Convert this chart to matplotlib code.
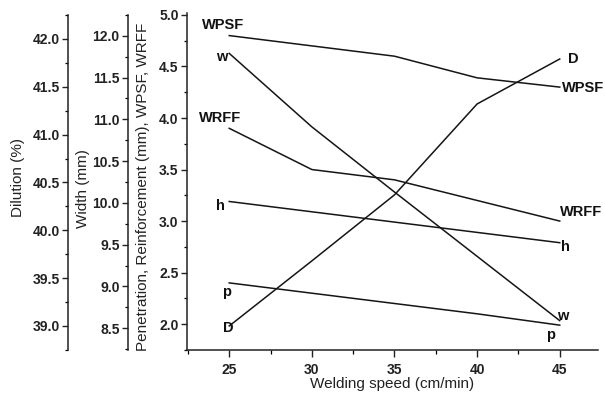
import numpy as np
from matplotlib import pyplot as plt
from matplotlib.ticker import MultipleLocator

plt.rcParams['font.family'] = ['Liberation Sans', 'DejaVu Sans']

# welding speed (cm/min)
speed = [25, 30, 35, 40, 45]

# main axis: penetration, reinforcement (mm), WPSF, WRFF
wpsf = [4.80, 4.70, 4.60, 4.39, 4.30]
wrff = [3.90, 3.50, 3.40, 3.20, 3.00]
h = [3.19, 3.09, 2.99, 2.89, 2.79]
p = [2.40, 2.30, 2.20, 2.10, 1.99]
# width (mm)
w = [11.79, 10.91, 10.13, 9.36, 8.59]
# dilution (%)
d = [39.0, 39.68, 40.37, 41.32, 41.79]

fig = plt.figure(figsize=(6.05, 3.94), dpi=100)
ax = fig.add_axes([0.309, 0.112, 0.679, 0.85])
ax_w = ax.twinx()
ax_d = ax.twinx()

lc = '#151515'
lw = 1.1
bold = dict(fontweight='bold', fontsize=10.5, color='#111111')

def label_ends(axis, x, y, name, off_l, off_r):
    axis.annotate(name, (x[0], y[0]), xytext=off_l, textcoords='offset pixels',
                  ha='center', va='center', **bold)
    axis.annotate(name, (x[-1], y[-1]), xytext=off_r, textcoords='offset pixels',
                  ha='center', va='center', **bold)

ax.plot(speed, wpsf, color=lc, lw=lw)
ax.plot(speed, wrff, color=lc, lw=lw)
ax.plot(speed, h, color=lc, lw=lw)
ax.plot(speed, p, color=lc, lw=lw)
ax_w.plot(speed, w, color=lc, lw=lw)
ax_d.plot(speed, d, color=lc, lw=lw)

label_ends(ax, speed, wpsf, 'WPSF', (-6, 11), (23, -1))
label_ends(ax, speed, wrff, 'WRFF', (-9, 10), (21, 9))
label_ends(ax, speed, h, 'h', (-9, -5), (6, -4))
label_ends(ax, speed, p, 'p', (-3, -9), (-9, -10))
label_ends(ax_w, speed, w, 'w', (-8, -4), (3, 5))
label_ends(ax_d, speed, d, 'D', (-1, -2), (14, 0))

ax.set_xlim(22.44, 47.3)
ax.set_ylim(1.75, 5.0)
ax_w.set_ylim(8.24, 12.25)
ax_d.set_ylim(38.75, 42.25)

ax.xaxis.set_major_locator(MultipleLocator(5))
ax.xaxis.set_minor_locator(MultipleLocator(2.5))
ax.yaxis.set_major_locator(MultipleLocator(0.5))
ax.yaxis.set_minor_locator(MultipleLocator(0.25))
ax.set_yticks([2.0, 2.5, 3.0, 3.5, 4.0, 4.5, 5.0])
for a in (ax_w, ax_d):
    a.yaxis.set_major_locator(MultipleLocator(0.5))
    a.yaxis.set_minor_locator(MultipleLocator(0.25))

for s in ('top', 'right'):
    ax.spines[s].set_visible(False)
ax.spines['left'].set_bounds(1.75, 5.02)

for a, pos in ((ax_w, -0.1436), (ax_d, -0.2895)):
    for s in ('top', 'right', 'bottom'):
        a.spines[s].set_visible(False)
    a.spines['left'].set_visible(True)
    a.spines['left'].set_position(('axes', pos))
    a.yaxis.set_ticks_position('left')
    a.yaxis.set_label_position('left')

for a in (ax, ax_w, ax_d):
    for s in a.spines.values():
        s.set_linewidth(1.1)
        s.set_color('#222222')
    a.tick_params(which='major', direction='out', length=4.5, width=1.0, pad=1.5,
                  labelsize=10, colors='#222222')
    a.tick_params(which='minor', direction='out', length=2.3, width=0.9)
    for t in a.get_yticklabels() + a.get_xticklabels():
        t.set_fontweight('bold')
ax.tick_params(axis='x', which='major', length=5, pad=4.5)
ax.tick_params(axis='x', which='minor', length=3)

lab = dict(fontsize=11, color='#222222')
ax.set_xlabel('Welding speed (cm/min)', labelpad=0, **lab)
ax.set_ylabel('Penetration, Reinforcement (mm), WPSF, WRFF', **lab)
ax_w.set_ylabel('Width (mm)', **lab)
ax_d.set_ylabel('Dilution (%)', **lab)
ax.yaxis.set_label_coords(-0.089, 0.487)
ax_w.yaxis.set_label_coords(-0.236, 0.483)
ax_d.yaxis.set_label_coords(-0.394, 0.516)

fig.savefig('out.png', dpi=100)
